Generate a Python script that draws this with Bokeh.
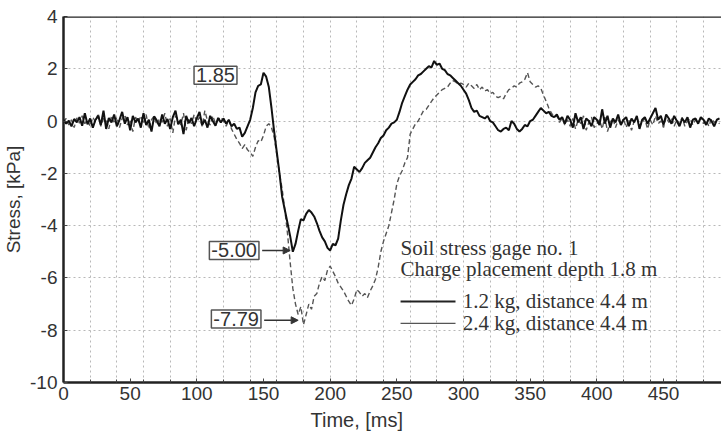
from bokeh.plotting import figure
from bokeh.models import (Range1d, FixedTicker, Label, Arrow, NormalHead, Span, Title)
from bokeh.embed import file_html
from bokeh.resources import INLINE

# sampling grid (ms)
time_ms = list(range(0, 494, 2))

# 1.2 kg, distance 4.4 m (solid)
stress_12kg = [
    0.05, -0.10, 0.02, -0.20, 0.08, -0.05, 0.15, -0.18, 0.30, -0.12,
    0.10, -0.25, 0.05, 0.20, -0.15, 0.40, -0.30, 0.12, -0.05, 0.25,
    -0.20, 0.05, 0.35, -0.10, 0.15, -0.35, 0.20, -0.05, 0.10, -0.25,
    0.30, -0.15, 0.05, -0.40, 0.18, 0.02, -0.20, 0.25, -0.10, 0.08,
    -0.30, 0.15, 0.40, -0.12, 0.05, -0.50, 0.20, -0.08, 0.12, -0.20,
    0.10, 0.35, -0.15, 0.05, -0.25, 0.20, 0.00, -0.18, 0.12, -0.05,
    0.10, -0.10, 0.05, -0.20, -0.10, -0.30, -0.25, -0.60, -0.45, -0.20,
    0.05, 0.50, 1.10, 1.35, 1.40, 1.85, 1.70, 1.30, 0.50, -0.40,
    -1.20, -2.00, -2.90, -3.40, -3.90, -4.40, -5.00, -4.70, -4.20, -3.75,
    -3.80, -3.55, -3.40, -3.50, -3.65, -3.90, -4.20, -4.45, -4.60, -4.85,
    -4.95, -4.70, -4.75, -4.50, -3.80, -3.20, -2.80, -2.45, -2.20, -1.75,
    -1.85, -1.95, -1.80, -1.60, -1.50, -1.40, -1.20, -1.00, -0.85, -0.65,
    -0.55, -0.35, -0.25, -0.10, -0.05, 0.05, 0.35, 0.70, 0.95, 1.20,
    1.40, 1.50, 1.60, 1.75, 1.80, 1.90, 2.00, 2.10, 2.05, 2.30,
    2.15, 2.20, 2.00, 1.95, 1.80, 1.75, 1.65, 1.55, 1.45, 1.35,
    1.20, 1.05, 0.80, 0.50, 0.35, 0.40, 0.20, 0.15, 0.10, 0.20,
    0.00, -0.05, -0.20, -0.35, -0.40, -0.30, -0.25, -0.35, 0.00, -0.10,
    -0.30, -0.40, -0.30, -0.15, -0.20, 0.00, 0.05, 0.20, 0.35, 0.50,
    0.40, 0.30, 0.35, 0.20, 0.15, 0.25, 0.05, 0.15, -0.10, 0.20,
    0.05, -0.25, 0.30, -0.05, 0.15, -0.30, 0.10, 0.00, -0.20, 0.15,
    0.05, -0.15, 0.45, -0.10, 0.20, -0.25, 0.10, -0.05, 0.25, -0.15,
    0.05, 0.15, -0.20, 0.10, -0.05, 0.20, -0.30, 0.05, 0.15, -0.10,
    0.10, 0.30, 0.50, 0.05, 0.20, -0.15, 0.25, 0.10, -0.10, 0.20,
    0.00, -0.20, 0.10, -0.05, 0.15, -0.25, 0.05, 0.10, -0.10, 0.15,
    0.05, -0.15, 0.10, 0.00, -0.20, 0.05, 0.10,
]

# 2.4 kg, distance 4.4 m (dashed)
stress_24kg = [
    -0.05, 0.10, -0.15, 0.05, -0.25, 0.12, -0.08, 0.20, -0.10, 0.05,
    -0.20, 0.15, -0.05, 0.30, -0.20, 0.10, 0.05, -0.30, 0.20, -0.10,
    0.15, -0.25, 0.10, 0.25, -0.15, 0.05, -0.40, 0.15, -0.05, 0.20,
    -0.10, 0.25, -0.30, 0.05, 0.20, -0.15, 0.10, -0.05, 0.30, -0.20,
    0.10, -0.45, 0.20, 0.05, -0.15, 0.30, -0.35, 0.10, -0.10, 0.25,
    -0.05, 0.15, -0.20, 0.40, 0.00, -0.15, 0.20, -0.10, 0.05, 0.15,
    0.00, -0.20, 0.05, -0.30, -0.50, -0.70, -0.85, -1.05, -0.90, -1.10,
    -1.20, -1.35, -1.00, -0.75, -0.80, -0.55, -0.20, -0.10, -0.25, -0.60,
    -1.30, -2.00, -2.60, -3.40, -4.30, -5.40, -6.40, -7.00, -7.40, -7.10,
    -7.79, -7.40, -7.00, -7.20, -6.70, -6.60, -6.20, -5.95, -6.10, -5.70,
    -5.55, -5.75, -5.95, -6.20, -6.35, -6.50, -6.70, -6.90, -7.05, -6.80,
    -6.45, -6.55, -6.70, -6.60, -6.75, -6.50, -6.30, -6.05, -5.60, -5.00,
    -4.60, -4.30, -4.00, -3.50, -3.00, -2.40, -2.10, -1.90, -1.60, -1.40,
    -0.50, -0.30, -0.10, 0.00, 0.20, 0.40, 0.45, 0.60, 0.75, 0.90,
    1.00, 1.10, 1.20, 1.25, 1.30, 1.45, 1.55, 1.50, 1.40, 1.45,
    1.40, 1.30, 1.45, 1.35, 1.25, 1.40, 1.20, 1.30, 1.15, 1.20,
    1.05, 1.10, 0.95, 0.90, 0.95, 0.85, 1.05, 1.20, 1.25, 1.35,
    1.30, 1.45, 1.50, 1.60, 1.85, 1.50, 1.40, 1.30, 1.35, 1.25,
    1.00, 0.75, 0.50, 0.30, 0.15, 0.20, -0.05, 0.10, -0.15, 0.05,
    -0.20, 0.10, -0.30, 0.05, -0.10, 0.20, -0.35, -0.05, 0.15, -0.25,
    -0.10, 0.05, -0.30, 0.15, -0.40, -0.05, 0.10, -0.25, 0.05, -0.15,
    0.10, -0.25, 0.05, -0.35, 0.00, 0.15, -0.20, -0.05, 0.10, -0.30,
    0.05, -0.15, 0.20, -0.10, 0.00, -0.25, 0.15, -0.05, 0.10, -0.20,
    0.05, -0.10, 0.15, -0.20, 0.00, 0.10, -0.15, 0.05, -0.05, 0.10,
    -0.10, 0.05, -0.20, 0.10, -0.05, 0.00, -0.10,
]

x_major_ticks = [0, 50, 100, 150, 200, 250, 300, 350, 400, 450]
x_minor_ticks = list(range(0, 494, 20))
y_major_ticks = [-10, -8, -6, -4, -2, 0, 2, 4]
y_tick_labels = ["-10", "-8", "-6", "-4", "-2", "0", "2", "4"]

legend_title = ["Soil stress gage no. 1", "Charge placement depth 1.8 m"]
series_names = ["1.2 kg, distance 4.4 m", "2.4 kg, distance 4.4 m"]
peak_labels = ["1.85", "-5.00", "-7.79"]

SANS = "Liberation Sans"
SERIF = "Liberation Serif"

p = figure(width=721, height=442, output_backend="svg", toolbar_location=None,
           x_range=Range1d(0, 493.5), y_range=Range1d(-10, 4),
           min_border_left=63, min_border_right=0, min_border_top=16, min_border_bottom=60)
p.background_fill_color = "white"
p.border_fill_color = "white"
p.outline_line_color = None

# axes
for ax in [p.xaxis[0], p.yaxis[0]]:
    ax.axis_line_width = 2.5
    ax.axis_line_color = "#222222"
    ax.major_tick_in = 4
    ax.major_tick_out = 0
    ax.minor_tick_in = 3
    ax.minor_tick_out = 0
    ax.major_tick_line_color = "#444444"
    ax.minor_tick_line_color = "#444444"
    ax.major_label_text_font = SANS
    ax.major_label_text_font_size = "19px"
    ax.major_label_text_color = "#333333"

p.xaxis[0].ticker = FixedTicker(ticks=x_major_ticks, minor_ticks=x_minor_ticks)
p.xaxis[0].major_label_standoff = 4
p.yaxis[0].ticker = FixedTicker(ticks=y_major_ticks, minor_ticks=[])
p.yaxis[0].major_label_overrides = {t: s for t, s in zip(y_major_ticks, y_tick_labels)}
p.yaxis[0].major_label_standoff = 6
p.yaxis[0].axis_label = "Stress, [kPa]"
p.yaxis[0].axis_label_text_font = SANS
p.yaxis[0].axis_label_text_font_size = "19px"
p.yaxis[0].axis_label_text_font_style = "normal"
p.yaxis[0].axis_label_text_color = "#333333"
p.yaxis[0].axis_label_standoff = 3

# x axis title, placed as a bottom title so it can sit left of frame centre
x_title = Title(text="Time, [ms]", align="left", offset=247, standoff=8,
                text_font=SANS, text_font_size="20px", text_font_style="normal",
                text_color="#333333")
p.add_layout(x_title, "below")

# top border of the frame
p.add_layout(Span(location=4, dimension="width", line_color="#222222", line_width=2.5))

# grids
p.xgrid.ticker = FixedTicker(ticks=x_minor_ticks)
p.ygrid.ticker = FixedTicker(ticks=y_major_ticks)
for g in [p.xgrid[0], p.ygrid[0]]:
    g.grid_line_color = "#b8b8b8"
    g.grid_line_dash = "2 3"
    g.grid_line_width = 1

# series
p.line(time_ms, stress_24kg, line_color="#555555", line_width=1.4, line_dash="5 3")
p.line(time_ms, stress_12kg, line_color="#111111", line_width=2)

# boxed value labels
box_pos = [(114, 1.75), (128, -4.95), (129.5, -7.57)]
for (bx, by), txt in zip(box_pos, peak_labels):
    p.add_layout(Label(x=bx, y=by, text=txt, text_font=SANS, text_font_size="20px",
                       text_color="#333333", text_align="center", text_baseline="middle",
                       border_line_color="#555555", border_line_width=1.5,
                       background_fill_color="white", padding=2))

p.add_layout(Arrow(x_start=149, y_start=-4.95, x_end=170, y_end=-4.95,
                   line_color="#333333", line_width=1.5,
                   end=NormalHead(size=7, fill_color="#333333", line_color="#333333")))
p.add_layout(Arrow(x_start=150.5, y_start=-7.62, x_end=176, y_end=-7.62,
                   line_color="#333333", line_width=1.5,
                   end=NormalHead(size=7, fill_color="#333333", line_color="#333333")))

# legend block
p.add_layout(Label(x=252.8, y=-4.84, text=legend_title[0], text_font=SERIF, text_font_size="21px",
                   text_color="#333333", text_baseline="alphabetic"))
p.add_layout(Label(x=252.8, y=-5.64, text=legend_title[1], text_font=SERIF, text_font_size="21px",
                   text_color="#333333", text_baseline="alphabetic"))
p.add_layout(Label(x=299.5, y=-6.90, text=series_names[0], text_font=SERIF, text_font_size="21px",
                   text_color="#333333", text_baseline="alphabetic"))
p.add_layout(Label(x=299.5, y=-7.74, text=series_names[1], text_font=SERIF, text_font_size="21px",
                   text_color="#333333", text_baseline="alphabetic"))
p.segment(x0=[252.8, 252.8], y0=[-6.90, -7.74], x1=[294, 294], y1=[-6.90, -7.74],
          line_color=["#222222", "#555555"], line_width=[2, 1.4])

open("out.html", "w").write(file_html(p, INLINE))
